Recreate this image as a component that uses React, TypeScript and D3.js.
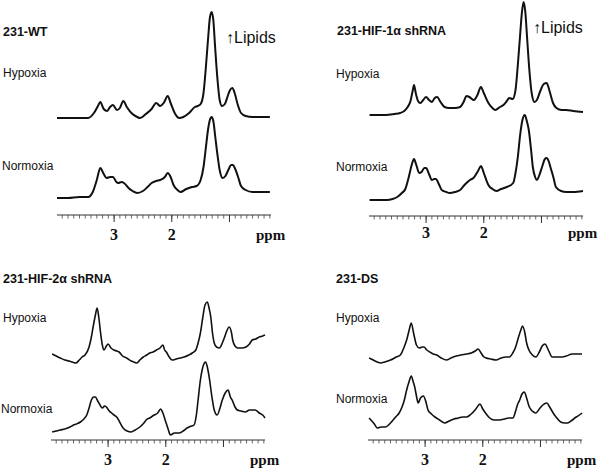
import React from "react";
import * as d3 from "d3";

type Pt = [number, number];

// ppm axis
const ppmDomain: [number, number] = [3.99, 0.28];
const majorTicks = [3, 2, 1];
const labeledTicks = ["3", "2"];
const minorTicks = d3.range(39, 2, -1).map((v) => v / 10);

const panelTitles = ["231-WT", "231-HIF-1α shRNA", "231-HIF-2α shRNA", "231-DS"];
const conditions = ["Hypoxia", "Normoxia"];
const lipidLabel = "↑Lipids";

// [ppm, intensity] (intensity above trace baseline)
const wtHypoxia: Pt[] = [[3.99,0],[3.8,0],[3.6,0],[3.45,0],[3.35,5],[3.28,12],[3.24,16],[3.18,9],[3.12,7],[3.07,11],[3.02,13],[2.95,8],[2.9,10],[2.84,17],[2.78,11],[2.7,5],[2.6,1],[2.55,0],[2.45,4],[2.35,9],[2.27,15],[2.2,12],[2.14,15],[2.07,22],[2.02,15],[1.95,5],[1.87,0],[1.8,1],[1.7,5],[1.6,11],[1.55,12],[1.5,14],[1.45,25],[1.41,50],[1.37,80],[1.34,100],[1.31,106],[1.28,98],[1.25,72],[1.21,40],[1.17,18],[1.13,12],[1.08,14],[1.03,22],[0.99,28],[0.95,30],[0.91,25],[0.86,14],[0.8,5],[0.72,2],[0.6,1],[0.45,1],[0.3,1]];
const wtNormoxia: Pt[] = [[3.99,0],[3.8,0],[3.6,1],[3.45,1],[3.37,6],[3.3,18],[3.24,30],[3.18,24],[3.13,20],[3.07,21],[3.02,21],[2.96,16],[2.93,15],[2.87,16],[2.83,15],[2.75,10],[2.68,7],[2.6,5],[2.5,7],[2.42,11],[2.35,15],[2.27,17],[2.2,18],[2.12,21],[2.07,25],[2.02,21],[1.97,13],[1.9,8],[1.85,6],[1.75,9],[1.65,11],[1.57,12],[1.5,18],[1.45,31],[1.41,50],[1.37,69],[1.34,78],[1.31,81],[1.28,77],[1.25,63],[1.21,44],[1.17,28],[1.12,20],[1.07,22],[1.02,28],[0.97,33],[0.94,33],[0.9,29],[0.85,21],[0.8,12],[0.72,8],[0.6,6],[0.45,6],[0.3,6]];
const hif1Hypoxia: Pt[] = [[3.98,0],[3.85,0],[3.7,0],[3.55,1],[3.45,2],[3.38,4],[3.32,8],[3.27,14],[3.23,25],[3.21,30],[3.18,22],[3.14,14],[3.1,12],[3.05,15],[3.0,18],[2.95,15],[2.9,13],[2.85,17],[2.81,18],[2.75,13],[2.68,8],[2.6,7],[2.5,7],[2.41,8],[2.35,13],[2.3,19],[2.25,18],[2.17,15],[2.11,20],[2.05,28],[2.0,22],[1.92,12],[1.85,7],[1.8,5],[1.72,8],[1.66,10],[1.6,14],[1.56,17],[1.5,16],[1.45,25],[1.41,50],[1.37,80],[1.34,102],[1.31,113],[1.28,103],[1.25,78],[1.21,45],[1.17,22],[1.12,13],[1.08,15],[1.02,24],[0.96,31],[0.91,32],[0.86,24],[0.8,12],[0.74,7],[0.65,5],[0.57,5],[0.45,4],[0.28,3]];
const hif1Normoxia: Pt[] = [[3.98,0],[3.85,0],[3.68,0],[3.58,1],[3.5,3],[3.42,7],[3.36,11],[3.3,23],[3.25,35],[3.21,41],[3.17,35],[3.12,27],[3.08,28],[3.03,32],[3.0,32],[2.95,26],[2.9,20],[2.86,21],[2.83,21],[2.78,16],[2.73,10],[2.65,8],[2.59,7],[2.5,8],[2.41,10],[2.35,14],[2.3,17],[2.24,20],[2.18,22],[2.1,29],[2.05,34],[2.0,27],[1.95,19],[1.92,15],[1.85,11],[1.78,9],[1.7,11],[1.6,13],[1.49,17],[1.45,27],[1.41,43],[1.37,65],[1.33,80],[1.29,85],[1.25,78],[1.22,70],[1.18,50],[1.15,33],[1.11,23],[1.08,20],[1.03,26],[0.99,33],[0.94,41],[0.91,42],[0.87,38],[0.84,32],[0.79,22],[0.75,13],[0.66,9],[0.57,8],[0.45,8],[0.28,9]];
const hif2Hypoxia: Pt[] = [[3.97,9],[3.9,7],[3.83,5],[3.75,3],[3.68,2],[3.62,1],[3.56,0],[3.5,3],[3.45,6],[3.4,8],[3.33,16],[3.29,26],[3.26,36],[3.22,48],[3.19,55],[3.16,45],[3.13,30],[3.1,18],[3.07,13],[3.03,17],[3.0,19],[2.95,15],[2.9,13],[2.85,12],[2.81,11],[2.75,7],[2.68,5],[2.6,2],[2.55,1],[2.5,0],[2.45,3],[2.39,6],[2.33,8],[2.28,10],[2.22,11],[2.16,13],[2.1,15],[2.05,18],[2.02,13],[1.99,11],[1.94,6],[1.89,3],[1.82,4],[1.75,5],[1.68,6],[1.6,8],[1.54,10],[1.48,13],[1.44,20],[1.4,30],[1.36,45],[1.32,58],[1.28,61],[1.25,55],[1.22,46],[1.19,30],[1.16,20],[1.12,16],[1.07,15],[1.02,20],[0.98,26],[0.95,31],[0.9,36],[0.86,30],[0.84,23],[0.8,17],[0.75,15],[0.68,15],[0.61,16],[0.55,19],[0.5,23],[0.44,24],[0.38,26],[0.32,27],[0.28,28]];
const hif2Normoxia: Pt[] = [[3.97,3],[3.9,4],[3.83,5],[3.75,6],[3.66,8],[3.6,10],[3.55,11],[3.48,13],[3.42,16],[3.37,20],[3.33,27],[3.29,35],[3.25,38],[3.22,38],[3.18,34],[3.14,30],[3.1,27],[3.06,29],[3.03,28],[2.98,24],[2.94,22],[2.9,20],[2.85,18],[2.8,13],[2.74,7],[2.67,4],[2.6,3],[2.53,5],[2.45,8],[2.38,12],[2.34,15],[2.28,17],[2.2,20],[2.14,22],[2.09,26],[2.05,22],[2.0,13],[1.96,6],[1.92,0],[1.85,2],[1.77,2],[1.7,4],[1.63,7],[1.55,9],[1.51,10],[1.47,20],[1.44,35],[1.4,55],[1.37,65],[1.34,71],[1.31,73],[1.28,68],[1.24,55],[1.2,38],[1.16,25],[1.11,20],[1.06,27],[1.02,35],[0.97,42],[0.92,45],[0.88,38],[0.85,35],[0.8,28],[0.76,25],[0.7,24],[0.62,23],[0.55,25],[0.45,25],[0.38,22],[0.32,20],[0.28,17]];
const dsHypoxia: Pt[] = [[3.97,5],[3.9,3],[3.83,1],[3.77,0],[3.7,1],[3.6,3],[3.5,6],[3.43,8],[3.37,15],[3.32,23],[3.28,32],[3.24,40],[3.2,30],[3.15,18],[3.1,15],[3.05,16],[3.02,16],[2.97,13],[2.92,11],[2.86,9],[2.8,8],[2.72,5],[2.63,3],[2.55,5],[2.46,7],[2.38,8],[2.28,9],[2.2,10],[2.13,12],[2.08,14],[2.03,10],[1.98,6],[1.94,5],[1.86,4],[1.77,3],[1.68,5],[1.6,6],[1.54,6],[1.48,10],[1.43,16],[1.38,26],[1.34,33],[1.31,37],[1.27,30],[1.24,20],[1.2,13],[1.14,8],[1.08,6],[1.02,11],[0.97,17],[0.92,19],[0.88,15],[0.84,10],[0.8,6],[0.72,6],[0.62,6],[0.55,7],[0.45,9],[0.35,9],[0.28,9]];
const dsNormoxia: Pt[] = [[3.97,10],[3.94,8],[3.88,4],[3.83,0],[3.76,1],[3.69,1],[3.6,5],[3.51,11],[3.45,15],[3.4,21],[3.36,28],[3.32,38],[3.28,46],[3.24,52],[3.21,47],[3.18,41],[3.15,32],[3.12,25],[3.08,30],[3.03,32],[2.99,27],[2.95,18],[2.89,14],[2.83,11],[2.75,8],[2.66,5],[2.58,7],[2.5,9],[2.42,10],[2.35,11],[2.28,11],[2.2,14],[2.12,19],[2.05,24],[2.0,19],[1.94,14],[1.88,10],[1.8,8],[1.71,8],[1.62,9],[1.55,10],[1.48,10],[1.43,17],[1.4,23],[1.36,28],[1.32,34],[1.28,36],[1.24,30],[1.2,22],[1.16,18],[1.12,16],[1.08,15],[1.02,19],[0.96,23],[0.89,25],[0.84,21],[0.78,15],[0.73,11],[0.65,6],[0.58,5],[0.53,5],[0.45,8],[0.38,11],[0.3,14],[0.28,15]];

const sansFont = "Arial, 'Liberation Sans', sans-serif";
const serifFont = "'Times New Roman', 'Liberation Serif', serif";

interface PanelCfg {
  title: string;
  hyp: Pt[];
  norm: Pt[];
  x0: number;
  axisY: number;
  hypBase: number;
  normBase: number;
  titlePos: [number, number];
  hypPos: [number, number];
  normPos: [number, number];
  lipidPos?: [number, number];
  stroke: number;
  labelDy: number;
}

const panels: PanelCfg[] = [
  { title: panelTitles[0], hyp: wtHypoxia, norm: wtNormoxia, x0: 57, axisY: 215, hypBase: 118, normBase: 198,
    titlePos: [3, 36], hypPos: [3, 77], normPos: [2, 170], lipidPos: [226, 43], stroke: 2, labelDy: 25 },
  { title: panelTitles[1], hyp: hif1Hypoxia, norm: hif1Normoxia, x0: 369, axisY: 216, hypBase: 115, normBase: 200,
    titlePos: [337, 35], hypPos: [336, 78], normPos: [336, 171], lipidPos: [533, 33], stroke: 2, labelDy: 22 },
  { title: panelTitles[2], hyp: hif2Hypoxia, norm: hif2Normoxia, x0: 51, axisY: 440, hypBase: 363, normBase: 435,
    titlePos: [3, 283], hypPos: [3, 322], normPos: [1, 413], stroke: 1.6, labelDy: 25 },
  { title: panelTitles[3], hyp: dsHypoxia, norm: dsNormoxia, x0: 368, axisY: 440, hypBase: 363, normBase: 428,
    titlePos: [336, 283], hypPos: [336, 322], normPos: [336, 403], stroke: 1.6, labelDy: 25 },
];

function Panel({ p }: { p: PanelCfg }) {
  const x = d3.scaleLinear().domain(ppmDomain).range([p.x0, p.x0 + 214]);
  const yH = d3.scaleLinear().domain([0, 100]).range([p.hypBase, p.hypBase - 100]);
  const yN = d3.scaleLinear().domain([0, 100]).range([p.normBase, p.normBase - 100]);
  const lineH = d3.line<Pt>().x((d) => x(d[0])).y((d) => yH(d[1])).curve(d3.curveMonotoneX);
  const lineN = d3.line<Pt>().x((d) => x(d[0])).y((d) => yN(d[1])).curve(d3.curveMonotoneX);
  const sortAsc = (a: Pt[]) => [...a].sort((u, v) => x(u[0]) - x(v[0]));
  return (
    <g>
      <text x={p.titlePos[0]} y={p.titlePos[1]} fontFamily={sansFont} fontWeight="bold" fontSize={12.5} fill="#111">{p.title}</text>
      <text x={p.hypPos[0]} y={p.hypPos[1]} fontFamily={sansFont} fontSize={12} fill="#111">{conditions[0]}</text>
      <text x={p.normPos[0]} y={p.normPos[1]} fontFamily={sansFont} fontSize={12} fill="#111">{conditions[1]}</text>
      {p.lipidPos && (
        <text x={p.lipidPos[0]} y={p.lipidPos[1]} fontFamily={sansFont} fontSize={16} fill="#111">{lipidLabel}</text>
      )}
      <path d={lineH(sortAsc(p.hyp)) || ""} fill="none" stroke="#111" strokeWidth={p.stroke} strokeLinejoin="round" />
      <path d={lineN(sortAsc(p.norm)) || ""} fill="none" stroke="#111" strokeWidth={p.stroke} strokeLinejoin="round" />
      <line x1={x(ppmDomain[0])} x2={x(ppmDomain[1])} y1={p.axisY} y2={p.axisY} stroke="#333" strokeWidth={1} />
      {minorTicks.map((t) => (
        <line key={t} x1={x(t)} x2={x(t)} y1={p.axisY} y2={p.axisY + 3.5} stroke="#444" strokeWidth={0.8} />
      ))}
      {majorTicks.map((t) => (
        <line key={"M" + t} x1={x(t)} x2={x(t)} y1={p.axisY} y2={p.axisY + 7} stroke="#333" strokeWidth={1} />
      ))}
      {labeledTicks.map((t) => (
        <text key={"L" + t} x={x(+t)} y={p.axisY + p.labelDy} textAnchor="middle" fontFamily={serifFont} fontWeight="bold" fontSize={16} fill="#111">{t}</text>
      ))}
      <text x={p.x0 + 199} y={p.axisY + p.labelDy} fontFamily={serifFont} fontWeight="bold" fontSize={15} fill="#111">ppm</text>
    </g>
  );
}

export default function App() {
  return (
    <svg width={600} height={473} style={{ display: "block", position: "absolute", left: 0, top: 0, background: "#fff" }}>
      <rect width={600} height={473} fill="#fff" />
      {panels.map((p, i) => <Panel key={i} p={p} />)}
    </svg>
  );
}
